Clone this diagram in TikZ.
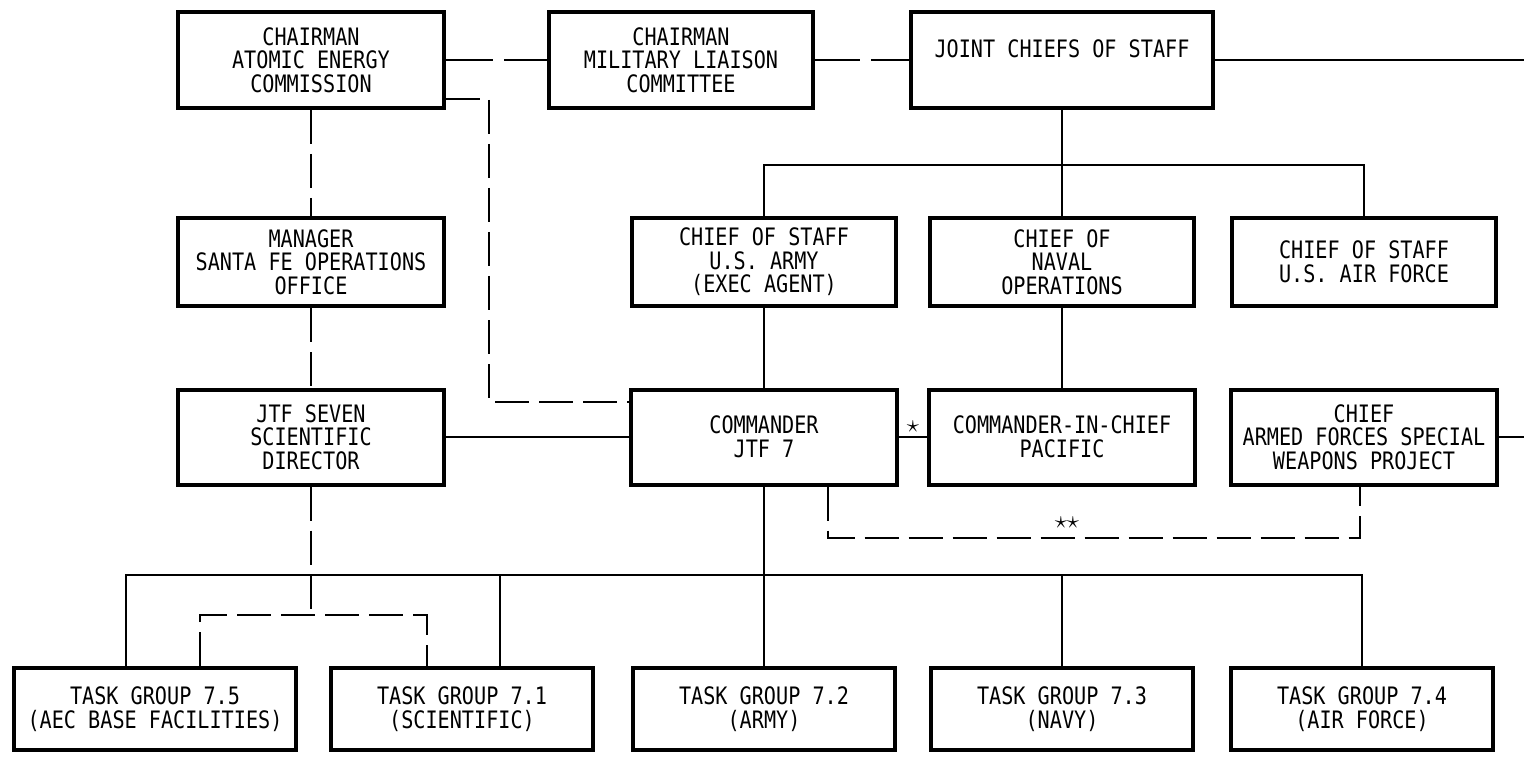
\documentclass[tikz,border=0pt]{standalone}
\usepackage{fontspec}
\newfontfamily\orgfont[FakeStretch=0.84]{DejaVu Sans Mono}
\begin{document}
\begin{tikzpicture}[x=1pt,y=-1pt,line width=1.8pt,
	unit/.style={draw,line width=4pt,align=center,inner sep=0pt,minimum width=264pt,font=\orgfont\fontsize{24}{23.5}\selectfont},
	dashline/.style={dash pattern=on 34pt off 10pt},
	topdash/.style={dash pattern=on 47pt off 11pt},
	starnote/.style={inner sep=1pt,font=\fontsize{28}{28}\selectfont}]
	\useasboundingbox (0,0) rectangle (1524,762);
	\node[unit,minimum width=266pt,minimum height=96pt](aec) at (311,60){CHAIRMAN\\ATOMIC ENERGY\\COMMISSION};
	\node[unit,minimum height=96pt](mlc) at (681,60){CHAIRMAN\\MILITARY LIAISON\\COMMITTEE};
	\node[unit,minimum width=302pt,minimum height=96pt](jcs) at (1062,60){JOINT CHIEFS OF STAFF\\~};
	\node[unit,minimum width=266pt,minimum height=88pt](sfo) at (311,262){MANAGER\\SANTA FE OPERATIONS\\OFFICE};
	\node[unit,minimum height=88pt](army) at (764,262){CHIEF OF STAFF\\U.S. ARMY\\(EXEC AGENT)};
	\node[unit,minimum height=88pt](navy) at (1062,262){CHIEF OF\\NAVAL\\OPERATIONS};
	\node[unit,minimum height=88pt](af) at (1364,262){CHIEF OF STAFF\\U.S. AIR FORCE};
	\node[unit,minimum width=266pt,minimum height=95pt](jtf) at (311,437){JTF SEVEN\\SCIENTIFIC\\DIRECTOR};
	\node[unit,minimum width=266pt,minimum height=95pt](cmdr) at (764,437){COMMANDER\\JTF 7};
	\node[unit,minimum width=266pt,minimum height=95pt](cincpac) at (1062,437){COMMANDER-IN-CHIEF\\PACIFIC};
	\node[unit,minimum width=266pt,minimum height=95pt](afswp) at (1364,437){CHIEF\\ARMED FORCES SPECIAL\\WEAPONS PROJECT};
	\node[unit,minimum width=282pt,minimum height=82pt](tg5) at (155,709){TASK GROUP 7.5\\(AEC BASE FACILITIES)};
	\node[unit,minimum width=262pt,minimum height=82pt](tg1) at (462,709){TASK GROUP 7.1\\(SCIENTIFIC)};
	\node[unit,minimum width=262pt,minimum height=82pt](tg2) at (764,709){TASK GROUP 7.2\\(ARMY)};
	\node[unit,minimum width=262pt,minimum height=82pt](tg3) at (1062,709){TASK GROUP 7.3\\(NAVY)};
	\node[unit,minimum width=262pt,minimum height=82pt](tg4) at (1362,709){TASK GROUP 7.4\\(AIR FORCE)};
	\coordinate (edgeT) at (1524,60);
	\coordinate (edgeM) at (1524,437);
	\coordinate (bus1) at (1062,165);
	\coordinate (b5) at (126,575);
	\coordinate (b1) at (500,575);
	\coordinate (b4) at (1362,575);
	\coordinate (split) at (311,615);
	\coordinate (d5) at (200,615);
	\coordinate (d1) at (427,615);
	\coordinate (kink) at (489,402);
	\coordinate (dd) at (1360,538);
	\draw[topdash] (aec)--(mlc);
	\draw[topdash,dash phase=2pt] (mlc)--(jcs);
	\draw (jcs)--(edgeT);
	\draw (jcs)--(navy);
	\draw (army)|-(bus1)-|(af);
	\draw (army)--(cmdr);
	\draw (navy)--(cincpac);
	\draw (jtf)--(cmdr);
	\draw (cmdr)--node[starnote,above=3pt]{$\star$}(cincpac);
	\draw (afswp)--(edgeM);
	\draw[dashline] (aec)--(sfo);
	\draw[dashline] (sfo)--(jtf);
	\draw[dashline] ([yshift=11pt]aec.south east)-|(kink)--(kink-|cmdr.west);
	\draw[dashline] ([xshift=64pt]cmdr.south)|-(dd)--(dd|-afswp.south);
	\node[starnote] (dstar) at (1067,523){$\star\star$};
	\draw (cmdr)--(tg2);
	\draw (b5|-tg5.north)--(b5)--(b4)--(b4|-tg4.north);
	\draw (b1)--(b1|-tg1.north);
	\draw (tg3)--(tg3|-b1);
	\draw[dashline] (jtf)--(split);
	\draw[dashline] (d5|-tg5.north)|-(d1)--(d1|-tg1.north);
\end{tikzpicture}
\end{document}
